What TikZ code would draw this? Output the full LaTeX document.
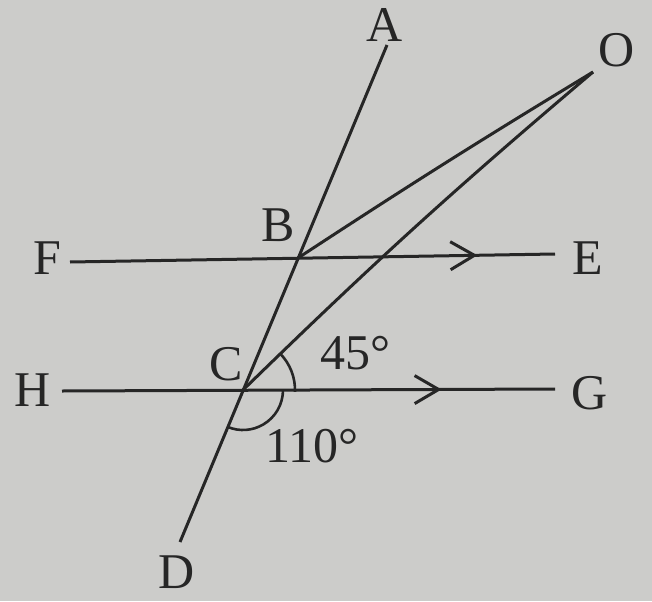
\documentclass[tikz,border=0pt]{standalone}
\usepackage{fontspec}
\setmainfont{Liberation Serif}
\usetikzlibrary{arrows.meta,decorations.markings}
\definecolor{paper}{RGB}{204,204,202}
\definecolor{ink}{RGB}{38,38,38}
\tikzset{
  geo/.style={draw=ink,line width=1.5pt},
  lbl/.style={text=ink,font=\fontsize{25}{28}\selectfont,inner sep=0pt},
  angarc/.style={draw=ink,line width=1.3pt},
  midarrow/.style={postaction={decorate},decoration={markings,
    mark=at position #1 with {\arrow[ink,line width=1.5pt]{Straight Barb[length=12pt,width=14pt]}}}}
}
\begin{document}
\begin{tikzpicture}[x=0.5pt,y=0.5pt]
\fill[paper] (0,0) rectangle (652,601);
\useasboundingbox (0,0) rectangle (652,601);
% points
\coordinate (A) at (387,556);
\coordinate (D) at (180,59);
\coordinate (B) at (298,343);
\coordinate (C) at (243,211);
\coordinate (O) at (593,529);
\coordinate (F) at (70,339);
\coordinate (E) at (555,347);
\coordinate (H) at (62,210);
\coordinate (G) at (555,212);
% lines
\draw[geo] (A) -- (D);
\draw[geo,midarrow=0.84] (F) -- (E);
\draw[geo,midarrow=0.77] (H) -- (G);
\draw[geo] (B) to[bend left=1] (O);
\draw[geo] (C) to[bend left=2] (O);
% angle arcs
\draw[angarc] ([shift={(44:52)}]C) arc[start angle=44,end angle=-2,radius=52];
\draw[angarc] ([shift={(0:40)}]C) arc[start angle=0,end angle=-112,radius=40];
% labels
\node[lbl] (lA) at (385,576) {A};
\node[lbl] (lO) at (617,551) {O};
\node[lbl] (lB) at (278,376) {B};
\node[lbl] (lF) at (47,343) {F};
\node[lbl] (lE) at (588,343) {E};
\node[lbl] (lC) at (226,237) {C};
\node[lbl] (lH) at (33,211) {H};
\node[lbl] (lG) at (590,208) {G};
\node[lbl] (l45) at (355,248) {45°};
\node[lbl] (l110) at (312,155) {110°};
\node[lbl] (lD) at (177,29) {D};
\end{tikzpicture}
\end{document}
